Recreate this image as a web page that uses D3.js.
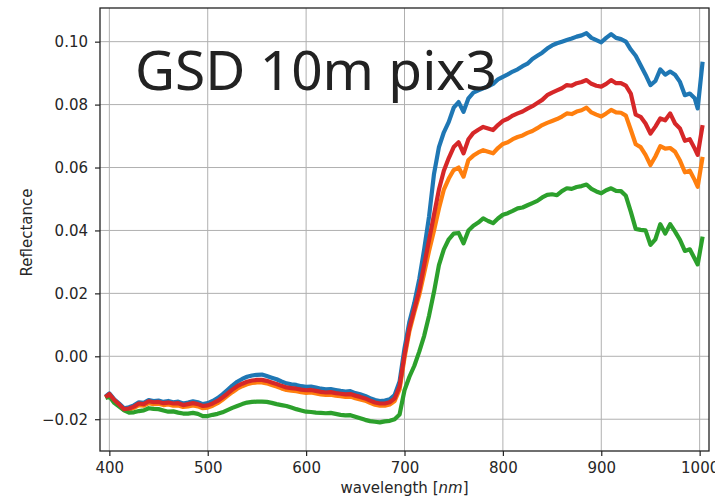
<!DOCTYPE html>
<html>
<head>
<meta charset="utf-8">
<script src="https://cdn.jsdelivr.net/npm/d3@7/dist/d3.min.js"></script>
<style>
  body { margin: 0; background: #fff; }
  text { font-family: "DejaVu Sans", sans-serif; }
</style>
</head>
<body>
<div id="graph"></div>
<script>

const wavelengths = [
  396, 400, 405, 410, 415, 420, 425, 430, 435, 440, 445, 450, 455, 460, 465, 470, 475, 480, 485, 490,
  495, 500, 505, 510, 515, 520, 525, 530, 535, 540, 545, 550, 555, 560, 565, 570, 575, 580, 585, 590,
  595, 600, 605, 610, 615, 620, 625, 630, 635, 640, 645, 650, 655, 660, 665, 670, 675, 680, 685, 690,
  695, 700, 705, 710, 715, 720, 725, 730, 735, 740, 745, 750, 755, 760, 765, 770, 775, 780, 785, 790,
  795, 800, 805, 810, 815, 820, 825, 830, 835, 840, 845, 850, 855, 860, 865, 870, 875, 880, 885, 890,
  895, 900, 905, 910, 915, 920, 925, 930, 935, 940, 945, 950, 955, 960, 965, 970, 975, 980, 985, 990,
  995, 998, 1003
];

const blueValues = [
  -0.0128, -0.0118, -0.0137, -0.0150, -0.0165, -0.0162, -0.0156, -0.0146, -0.0148, -0.0139, -0.0142, -0.0141, -0.0145, -0.0142, -0.0146, -0.0144, -0.0150, -0.0147, -0.0143, -0.0146,
  -0.0152, -0.0149, -0.0142, -0.0133, -0.0121, -0.0107, -0.0093, -0.0081, -0.0072, -0.0065, -0.0061, -0.0059, -0.0058, -0.0063, -0.0068, -0.0073, -0.0080, -0.0086, -0.0089, -0.0091,
  -0.0095, -0.0097, -0.0096, -0.0099, -0.0103, -0.0105, -0.0104, -0.0107, -0.0110, -0.0112, -0.0111, -0.0117, -0.0121, -0.0126, -0.0133, -0.0139, -0.0142, -0.0141, -0.0137, -0.0123,
  -0.0080, 0.0025, 0.0110, 0.0170, 0.0245, 0.0340, 0.0445, 0.0580, 0.0665, 0.0712, 0.0745, 0.0790, 0.0808, 0.0777, 0.0820, 0.0838, 0.0845, 0.0852, 0.0858, 0.0866,
  0.0880, 0.0888, 0.0896, 0.0905, 0.0912, 0.0922, 0.0930, 0.0945, 0.0955, 0.0965, 0.0978, 0.0988, 0.0995, 0.1000, 0.1005, 0.1010, 0.1016, 0.1020, 0.1027, 0.1012,
  0.1005, 0.0998, 0.1012, 0.1024, 0.1012, 0.1008, 0.1000, 0.0975, 0.0955, 0.0925, 0.0895, 0.0862, 0.0875, 0.0912, 0.0895, 0.0905, 0.0895, 0.0872, 0.0830, 0.0835,
  0.0820, 0.0788, 0.0936
];

const orangeValues = [
  -0.0131, -0.0122, -0.0141, -0.0156, -0.0171, -0.0170, -0.0164, -0.0155, -0.0157, -0.0149, -0.0152, -0.0151, -0.0155, -0.0153, -0.0157, -0.0156, -0.0161, -0.0159, -0.0156, -0.0159,
  -0.0165, -0.0163, -0.0157, -0.0149, -0.0138, -0.0126, -0.0114, -0.0103, -0.0095, -0.0089, -0.0085, -0.0083, -0.0083, -0.0086, -0.0091, -0.0096, -0.0102, -0.0107, -0.0109, -0.0111,
  -0.0114, -0.0116, -0.0115, -0.0118, -0.0121, -0.0123, -0.0122, -0.0125, -0.0127, -0.0129, -0.0128, -0.0133, -0.0137, -0.0141, -0.0148, -0.0154, -0.0157, -0.0157, -0.0153, -0.0142,
  -0.0105, -0.0005, 0.0080, 0.0140, 0.0195, 0.0265, 0.0335, 0.0400, 0.0470, 0.0530, 0.0565, 0.0592, 0.0600, 0.0571, 0.0624, 0.0638, 0.0648, 0.0655, 0.0650, 0.0645,
  0.0662, 0.0675, 0.0680, 0.0690, 0.0697, 0.0702, 0.0710, 0.0716, 0.0725, 0.0735, 0.0742, 0.0748, 0.0754, 0.0762, 0.0772, 0.0770, 0.0778, 0.0782, 0.0790, 0.0775,
  0.0768, 0.0762, 0.0772, 0.0783, 0.0775, 0.0774, 0.0765, 0.0720, 0.0674, 0.0665, 0.0640, 0.0608, 0.0635, 0.0668, 0.0660, 0.0662, 0.0650, 0.0622, 0.0585, 0.0590,
  0.0560, 0.0539, 0.0634
];

const greenValues = [
  -0.0133, -0.0128, -0.0148, -0.0160, -0.0172, -0.0179, -0.0178, -0.0174, -0.0172, -0.0165, -0.0167, -0.0168, -0.0172, -0.0176, -0.0175, -0.0179, -0.0182, -0.0182, -0.0180, -0.0183,
  -0.0190, -0.0190, -0.0186, -0.0183, -0.0178, -0.0171, -0.0164, -0.0158, -0.0152, -0.0147, -0.0145, -0.0144, -0.0144, -0.0145, -0.0148, -0.0152, -0.0155, -0.0158, -0.0163, -0.0168,
  -0.0172, -0.0176, -0.0177, -0.0179, -0.0180, -0.0181, -0.0180, -0.0183, -0.0186, -0.0188, -0.0187, -0.0192, -0.0197, -0.0202, -0.0206, -0.0208, -0.0210, -0.0207, -0.0205, -0.0200,
  -0.0185, -0.0108, -0.0065, -0.0030, 0.0015, 0.0065, 0.0130, 0.0205, 0.0290, 0.0340, 0.0372, 0.0390, 0.0392, 0.0359, 0.0400, 0.0415, 0.0425, 0.0438, 0.0430, 0.0423,
  0.0438, 0.0450, 0.0455, 0.0462, 0.0470, 0.0473, 0.0480, 0.0487, 0.0494, 0.0505, 0.0513, 0.0515, 0.0512, 0.0525, 0.0534, 0.0532, 0.0538, 0.0541, 0.0546, 0.0532,
  0.0524, 0.0518, 0.0528, 0.0534, 0.0526, 0.0525, 0.0510, 0.0460, 0.0405, 0.0402, 0.0400, 0.0354, 0.0372, 0.0420, 0.0390, 0.0420, 0.0396, 0.0370, 0.0335, 0.0340,
  0.0310, 0.0292, 0.0380
];

const redValues = [
  -0.0130, -0.0120, -0.0139, -0.0153, -0.0168, -0.0166, -0.0160, -0.0150, -0.0152, -0.0143, -0.0146, -0.0145, -0.0149, -0.0147, -0.0150, -0.0149, -0.0155, -0.0152, -0.0149, -0.0152,
  -0.0158, -0.0156, -0.0150, -0.0142, -0.0131, -0.0119, -0.0106, -0.0095, -0.0087, -0.0081, -0.0077, -0.0075, -0.0075, -0.0078, -0.0083, -0.0088, -0.0094, -0.0099, -0.0101, -0.0103,
  -0.0106, -0.0108, -0.0107, -0.0110, -0.0113, -0.0115, -0.0114, -0.0117, -0.0119, -0.0121, -0.0120, -0.0125, -0.0129, -0.0134, -0.0141, -0.0147, -0.0150, -0.0150, -0.0146, -0.0134,
  -0.0095, 0.0005, 0.0090, 0.0150, 0.0210, 0.0290, 0.0370, 0.0450, 0.0530, 0.0590, 0.0630, 0.0665, 0.0680, 0.0645, 0.0690, 0.0710, 0.0720, 0.0729, 0.0724, 0.0719,
  0.0735, 0.0748, 0.0755, 0.0765, 0.0772, 0.0778, 0.0787, 0.0795, 0.0805, 0.0815, 0.0830, 0.0838, 0.0845, 0.0852, 0.0862, 0.0860, 0.0868, 0.0872, 0.0878, 0.0866,
  0.0860, 0.0857, 0.0866, 0.0878, 0.0868, 0.0868, 0.0860, 0.0835, 0.0768, 0.0761, 0.0740, 0.0708, 0.0730, 0.0756, 0.0750, 0.0772, 0.0740, 0.0724, 0.0685, 0.0690,
  0.0660, 0.0640, 0.0735
];

const xTicks = [400, 500, 600, 700, 800, 900, 1000];
const yTicks = [-0.02, 0.00, 0.02, 0.04, 0.06, 0.08, 0.10];

// drawn in this order, red ends up on top
const seriesList = [
  { values: blueValues, color: "#1f77b4" },
  { values: orangeValues, color: "#ff7f0e" },
  { values: greenValues, color: "#2ca02c" },
  { values: redValues, color: "#d62728" }
];

var margin = {top: 8, right: 6, bottom: 52, left: 100},
    width = 715 - margin.left - margin.right,
    height = 503 - margin.top - margin.bottom;

var svg = d3.select("#graph").append("svg")
    .attr("width", 715)
    .attr("height", 503)
  .append("g")
    .attr("transform", "translate(" + margin.left + "," + margin.top + ")");

var x = d3.scaleLinear()
    .domain([390.5, 1009.5])
    .range([0, width]);

var y = d3.scaleLinear()
    .domain([-0.0301, 0.1107])
    .range([height, 0]);

// grid
svg.selectAll(".gridX")
  .data(xTicks)
  .enter().append("line")
  .attr("class", "gridX")
  .attr("x1", d => x(d)).attr("x2", d => x(d))
  .attr("y1", 0).attr("y2", height)
  .attr("stroke", "#b0b0b0")
  .attr("stroke-width", 1);

svg.selectAll(".gridY")
  .data(yTicks)
  .enter().append("line")
  .attr("class", "gridY")
  .attr("x1", 0).attr("x2", width)
  .attr("y1", d => y(d)).attr("y2", d => y(d))
  .attr("stroke", "#b0b0b0")
  .attr("stroke-width", 1);

var line = d3.line()
    .x((d, i) => x(wavelengths[i]))
    .y(d => y(d));

seriesList.forEach(function(s) {
  svg.append("path")
    .datum(s.values)
    .attr("d", line)
    .attr("fill", "none")
    .attr("stroke", s.color)
    .attr("stroke-width", 4.2)
    .attr("stroke-linejoin", "round")
    .attr("stroke-linecap", "butt");
});

// axes
var xAxis = svg.append("g")
    .attr("transform", "translate(0," + height + ")")
    .call(d3.axisBottom(x).tickValues(xTicks).tickSize(5).tickPadding(6).tickFormat(d3.format("d")));

var yAxis = svg.append("g")
    .call(d3.axisLeft(y).tickValues(yTicks).tickSize(5).tickPadding(7).tickFormat(d3.format(".2f")));

[xAxis, yAxis].forEach(function(a) {
  a.select(".domain").remove();
  a.selectAll("line").attr("stroke", "#222").attr("stroke-width", 1.2);
  a.selectAll("text")
    .attr("fill", "#262626")
    .style("font-family", "DejaVu Sans")
    .style("font-size", "15px");
});

svg.append("rect")
  .attr("x", 0).attr("y", 0)
  .attr("width", width).attr("height", height)
  .attr("fill", "none")
  .attr("stroke", "#222")
  .attr("stroke-width", 1.3);

// labels
svg.append("text")
  .attr("x", width / 2)
  .attr("y", height + 42)
  .attr("text-anchor", "middle")
  .style("font-size", "15px")
  .attr("fill", "#262626")
  .html('wavelength [<tspan font-style="italic">nm</tspan>]');

svg.append("text")
  .attr("transform", "translate(" + (-68) + "," + (height / 2 + 3) + ") rotate(-90)")
  .attr("text-anchor", "middle")
  .style("font-size", "15px")
  .attr("fill", "#262626")
  .text("Reflectance");

svg.append("text")
  .attr("x", 35)
  .attr("y", 82)
  .style("font-family", "Noto Sans")
  .style("font-size", "55px")
  .attr("fill", "#222")
  .text("GSD 10m pix3");

</script>
</body>
</html>
